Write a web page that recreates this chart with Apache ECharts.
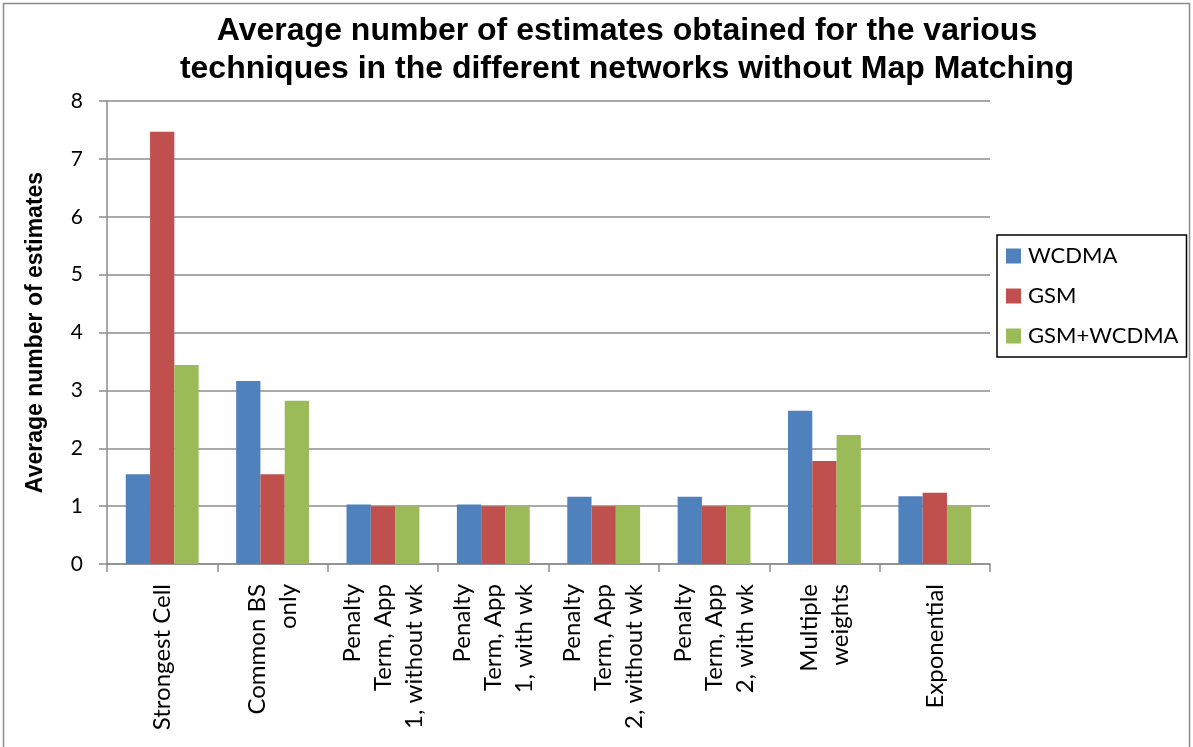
<!DOCTYPE html>
<html>
<head>
<meta charset="utf-8">
<script src="https://cdn.jsdelivr.net/npm/echarts@6/dist/echarts.min.js"></script>
<style>
  html, body { margin: 0; padding: 0; background: #fff; }
  #chart { width: 1193px; height: 747px; }
</style>
</head>
<body>
<div id="chart"></div>
<script>
// Techniques compared (x-axis categories)
const categories = [
  'Strongest Cell',
  'Common BS\nonly',
  'Penalty\nTerm, App\n1, without wk',
  'Penalty\nTerm, App\n1, with wk',
  'Penalty\nTerm, App\n2, without wk',
  'Penalty\nTerm, App\n2, with wk',
  'Multiple\nweights',
  'Exponential'
];

// Average number of estimates per network
const wcdma    = [1.55, 3.16, 1.03, 1.03, 1.16, 1.16, 2.65, 1.17];
const gsm      = [7.47, 1.55, 1.00, 1.00, 1.00, 1.00, 1.78, 1.23];
const gsmWcdma = [3.44, 2.82, 1.00, 1.00, 1.02, 1.02, 2.23, 1.00];

const seriesNames = ['WCDMA', 'GSM', 'GSM+WCDMA'];
const seriesColors = ['#4F81BD', '#C0504D', '#9BBB59'];
const yTicks = [0, 1, 2, 3, 4, 5, 6, 7, 8];

const chart = echarts.init(document.getElementById('chart'));
const labelFont = 'Lato, "Open Sans", "DejaVu Sans", sans-serif';

chart.setOption({
  animation: false,
  backgroundColor: '#fff',
  title: {
    text: 'Average number of estimates obtained for the various\ntechniques in the different networks without Map Matching',
    left: 622,
    top: 7,
    textAlign: 'center',
    textStyle: {
      fontFamily: '"Liberation Sans", Arial, sans-serif',
      fontWeight: 'bold',
      fontSize: 32,
      lineHeight: 38,
      color: '#000'
    }
  },
  graphic: [{
    type: 'rect',
    shape: { x: 3.5, y: 3.5, width: 1186, height: 780 },
    style: { fill: 'none', stroke: '#8c8c8c', lineWidth: 1.5 },
    silent: true
  }],
  legend: {
    orient: 'vertical',
    left: 997,
    top: 235,
    data: seriesNames,
    icon: 'rect',
    itemWidth: 15,
    itemHeight: 15,
    itemGap: 18,
    padding: [10, 8, 10, 9],
    borderColor: '#000',
    borderWidth: 1.5,
    textStyle: { fontFamily: labelFont, fontSize: 22, color: '#000', padding: [0, 0, 0, 2] }
  },
  grid: { left: 107, top: 101, right: 203, bottom: 183 },
  xAxis: {
    type: 'category',
    data: categories,
    axisLine: { lineStyle: { color: '#8c8c8c', width: 1.5 } },
    axisTick: { show: true, length: 8, lineStyle: { color: '#8c8c8c', width: 1.5 } },
    axisLabel: {
      rotate: 90,
      interval: 0,
      margin: 20,
      fontFamily: labelFont,
      fontSize: 24,
      lineHeight: 31,
      color: '#000'
    }
  },
  yAxis: {
    type: 'value',
    min: 0,
    max: 8,
    interval: 1,
    name: 'Average number of estimates',
    nameLocation: 'middle',
    nameGap: 60,
    nameTextStyle: {
      fontFamily: '"Liberation Sans", Arial, sans-serif',
      fontWeight: 'bold',
      fontSize: 23,
      color: '#000'
    },
    axisLine: { show: true, lineStyle: { color: '#8c8c8c', width: 1.5 } },
    axisTick: { show: true, length: 8, lineStyle: { color: '#8c8c8c', width: 1.5 } },
    splitLine: { lineStyle: { color: '#8c8c8c', width: 1.5 } },
    axisLabel: {
      margin: 24,
      fontFamily: labelFont,
      fontSize: 21,
      color: '#000',
      formatter: v => yTicks.includes(v) ? String(v) : ''
    }
  },
  series: [wcdma, gsm, gsmWcdma].map((d, i) => ({
    name: seriesNames[i],
    type: 'bar',
    data: d,
    barGap: '0%',
    barCategoryGap: '34%',
    itemStyle: { color: seriesColors[i] }
  }))
});
</script>
</body>
</html>
